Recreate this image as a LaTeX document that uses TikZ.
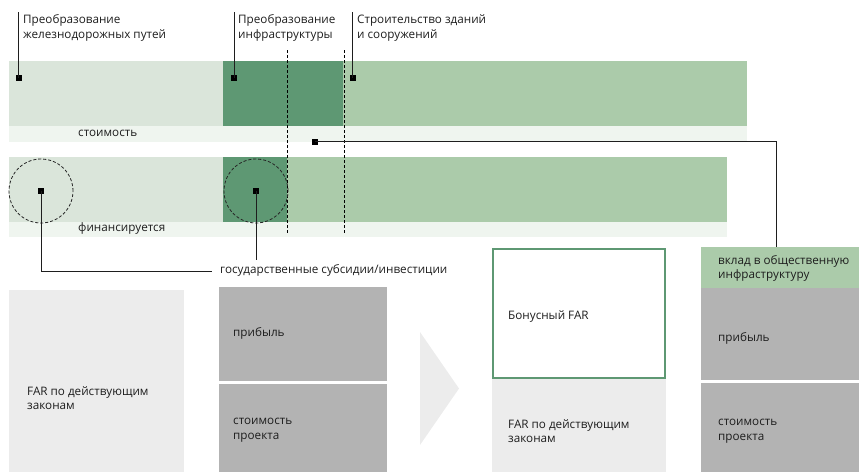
\documentclass[tikz,border=0pt]{standalone}
\usepackage{fontspec}
\setmainfont{Open Sans}
\definecolor{gLight}{HTML}{DAE5DA}
\definecolor{gDark}{HTML}{5E9873}
\definecolor{gMid}{HTML}{ABCBAA}
\definecolor{gStrip}{HTML}{EFF5EF}
\definecolor{grayBox}{HTML}{B3B3B3}
\definecolor{grayLight}{HTML}{ECECEC}
\definecolor{inkc}{HTML}{1E1E1E}
\begin{document}
\begin{tikzpicture}[x=1pt,y=-1pt,
  txt/.style={font=\fontsize{11.7}{14.6}\selectfont, inner sep=0pt, anchor=west, align=left, text=inkc},
  lead/.style={draw=inkc, line width=0.9pt},
  mk/.style={fill=black, minimum size=6pt, inner sep=0pt, draw=none, rectangle},
  dsh/.style={draw=black, line width=0.9pt, dash pattern=on 3pt off 2pt},
  circ/.style={draw=black!85, line width=0.8pt, dash pattern=on 3pt off 2pt, circle, minimum size=64pt, inner sep=0pt},
]
\useasboundingbox (0,0) rectangle (859,472);
% --- bar 1 (cost)
\fill[gLight] (9,61) rectangle (223,126);
\fill[gDark] (223,61) rectangle (343,126);
\fill[gMid] (343,61) rectangle (747,126);
\fill[gStrip] (9,126) rectangle (747,141.5);
\node[txt] (cost) at (78,133) {стоимость};
% --- bar 2 (financed)
\fill[gLight] (9,157) rectangle (223,222);
\fill[gDark] (223,157) rectangle (287,222);
\fill[gMid] (287,157) rectangle (727,222);
\fill[gStrip] (9,222) rectangle (727,237);
\node[txt] (fin) at (78,228.5) {финансируется};
% --- dashed dividers
\coordinate (d1t) at (287,50); \coordinate (d1b) at (287,233);
\coordinate (d2t) at (344,50); \coordinate (d2b) at (344,233);
\draw[dsh] (d1t) -- (d1b);
\draw[dsh] (d2t) -- (d2b);
% --- top labels
\node[txt, anchor=west] (l1) at (23,28) {Преобразование\\железнодорожных путей};
\node[txt, anchor=west] (l2) at (238,28) {Преобразование\\инфраструктуры};
\node[txt, anchor=west] (l3) at (357,28) {Строительство зданий\\и сооружений};
\node[mk] (m1) at (18.5,77.5) {};
\node[mk] (m2) at (234,77.5) {};
\node[mk] (m3) at (352.5,77.5) {};
\coordinate (t1) at (18.5,12); \coordinate (t2) at (234,12); \coordinate (t3) at (352.5,12);
\draw[lead] (t1) -- (m1.center);
\draw[lead] (t2) -- (m2.center);
\draw[lead] (t3) -- (m3.center);
% --- circles
\node[circ] (c1) at (41,191) {};
\node[circ] (c2) at (256,191) {};
\node[mk] (m4) at (41,191) {};
\node[mk] (m5) at (256,191) {};
\node[txt] (subs) at (220,270) {государственные субсидии/инвестиции};
\coordinate (s1end) at (212,271);
\draw[lead] (m4.center) |- (s1end);
\coordinate (s2end) at (256,260);
\draw[lead] (m5.center) -- (s2end);
% --- infrastructure contribution connector
\node[mk] (m6) at (315,141.5) {};
% --- bottom left
\fill[grayLight] (9,290) rectangle (184,472);
\node[txt] (far1) at (27,398) {FAR по действующим\\законам};
\fill[grayBox] (219,287) rectangle (387,381);
\node[txt] (pr1) at (233,333) {прибыль};
\fill[grayBox] (219,384) rectangle (387,472);
\node[txt] (sp1) at (233,430) {стоимость\\проекта};
% arrow
\fill[grayLight] (420,332) -- (459,388.5) -- (420,445) -- cycle;
% --- bottom middle
\fill[white] (492,248) rectangle (666,379);
\draw[gDark, line width=2.2pt] (493.1,249.1) rectangle (664.9,377.9);
\node[txt] (bonus) at (508,316) {Бонусный FAR};
\fill[grayLight] (492,379) rectangle (666,472);
\node[txt] (far2) at (508,431) {FAR по действующим\\законам};
% --- bottom right
\fill[gMid] (701,247) rectangle (859,288);
\node[txt] (vk) at (718,268.5) {вклад в общественную\\инфраструктуру};
\fill[grayBox] (701,288) rectangle (859,380);
\node[txt] (pr2) at (718,338) {прибыль};
\fill[grayBox] (701,383) rectangle (859,472);
\node[txt] (sp2) at (718,431) {стоимость\\проекта};
\coordinate (vktop) at (776,247);
\draw[lead] (m6.center) -| (vktop);
\end{tikzpicture}
\end{document}
